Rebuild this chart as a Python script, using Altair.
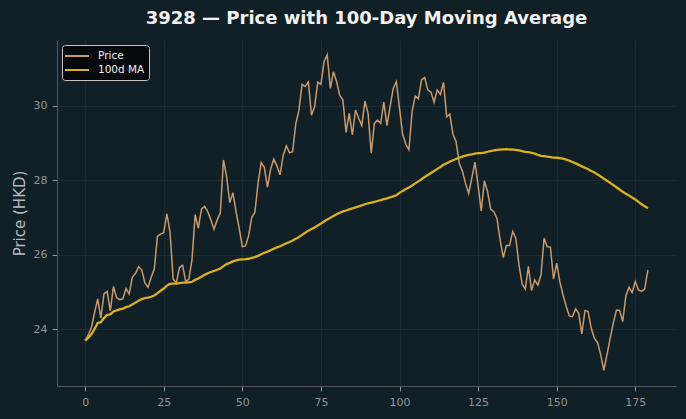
import altair as alt
import pandas as pd

# Daily closing prices for 3928 (HKD), trading days 0..179
days = list(range(180))
price = [
    23.70, 23.85, 24.05, 24.45, 24.82, 24.30, 24.95, 25.02, 24.50, 25.15,
    24.85, 24.80, 24.82, 25.10, 24.95, 25.40, 25.50, 25.68, 25.60, 25.25,
    25.13, 25.40, 25.62, 26.50, 26.56, 26.60, 27.10, 26.62, 25.35, 25.25,
    25.66, 25.72, 25.28, 25.35, 25.88, 27.08, 26.72, 27.23, 27.30, 27.16,
    26.94, 26.69, 26.94, 27.12, 28.55, 28.10, 27.40, 27.67, 27.16, 26.72,
    26.22, 26.24, 26.51, 27.01, 27.14, 27.92, 28.48, 28.35, 27.82, 28.30,
    28.57, 28.39, 28.15, 28.67, 28.93, 28.74, 28.77, 29.52, 29.88, 30.58,
    30.52, 30.64, 29.75, 29.98, 30.64, 30.58, 31.19, 31.37, 30.47, 30.92,
    30.65, 30.28, 30.16, 29.29, 29.80, 29.22, 29.89, 29.67, 29.47, 30.13,
    29.80, 28.73, 29.53, 29.62, 29.53, 30.10, 29.47, 29.98, 30.47, 30.65,
    29.94, 29.24, 28.97, 28.82, 29.85, 30.27, 30.19, 30.70, 30.76, 30.43,
    30.37, 30.10, 30.43, 30.31, 30.63, 29.71, 29.78, 29.24, 29.04, 28.46,
    28.25, 27.92, 27.65, 28.06, 28.49, 27.86, 27.18, 27.99, 27.70, 27.23,
    27.16, 26.98, 26.40, 25.93, 26.25, 26.25, 26.63, 26.45, 25.73, 25.22,
    25.08, 25.69, 25.04, 25.33, 25.19, 25.46, 26.45, 26.22, 26.21, 25.35,
    25.78, 25.28, 24.93, 24.63, 24.36, 24.34, 24.55, 24.43, 23.88, 24.51,
    24.48, 24.03, 23.76, 23.65, 23.32, 22.90, 23.32, 23.76, 24.17, 24.52,
    24.51, 24.21, 24.90, 25.13, 24.99, 25.28, 25.06, 25.02, 25.08, 25.60,
]

x_ticks = [0, 25, 50, 75, 100, 125, 150, 175]
y_ticks = [24, 26, 28, 30]
series_names = ["Price", "100d MA"]
series_colors = ["#c99a6b", "#d9b21d"]
ma_window = 100

BG = "#111f26"
FONT = "DejaVu Sans"

df = pd.DataFrame({"day": days, "price": price})

# Rolling mean over the last 100 sessions (shorter at the start of the series)
base = (
    alt.Chart(df)
    .transform_window(
        ma="mean(price)", frame=[-(ma_window - 1), 0], sort=[alt.SortField("day")]
    )
    .transform_fold(["price", "ma"], as_=["key", "value"])
    .transform_calculate(series="datum.key === 'price' ? 'Price' : '100d MA'")
)

x_enc = alt.X(
    "day:Q",
    scale=alt.Scale(domain=[-8.95, 187.95], nice=False, zero=False),
    axis=alt.Axis(values=x_ticks, title=None, format="d"),
)
y_enc = alt.Y(
    "value:Q",
    scale=alt.Scale(domain=[22.48, 31.77], nice=False, zero=False),
    axis=alt.Axis(values=y_ticks, title="Price (HKD)", format="d"),
)
# Wide horizontal dash as the legend handle
color_enc = alt.Color(
    "series:N",
    scale=alt.Scale(domain=series_names, range=series_colors),
    legend=alt.Legend(
        title=None,
        orient="none",
        legendX=5,
        legendY=5,
        symbolType="M-2,0H2",
        symbolSize=144,
        symbolStrokeWidth=2,
        symbolOffset=4,
        labelFont=FONT,
        labelFontSize=10.5,
        labelColor="#eeeeee",
        labelOffset=14,
        fillColor="#05090b",
        strokeColor="#c4c4c4",
        cornerRadius=3,
        padding=4,
        rowPadding=1,
    ),
)

price_line = base.transform_filter("datum.key === 'price'").mark_line(
    strokeWidth=1.5
).encode(x=x_enc, y=y_enc, color=color_enc)

ma_line = base.transform_filter("datum.key === 'ma'").mark_line(
    strokeWidth=2.3
).encode(x=x_enc, y=y_enc, color=color_enc)

chart = (
    alt.layer(price_line, ma_line)
    .properties(
        width=619,
        height=346,
        background=BG,
        autosize=alt.AutoSizeParams(type="none"),
        padding={"left": 57, "top": 40, "right": 10, "bottom": 33},
        title=alt.TitleParams(
            "3928 — Price with 100-Day Moving Average",
            font=FONT,
            fontSize=18,
            fontWeight="bold",
            color="#f2f2f2",
            anchor="middle",
            offset=12,
        ),
    )
    .configure_view(stroke=None, fill=BG)
    .configure_axis(
        labelFont=FONT,
        labelFontSize=11,
        labelColor="#8e959a",
        titleFont=FONT,
        titleFontSize=15,
        titleFontWeight="normal",
        titleColor="#b5babe",
        titlePadding=6,
        tickColor="#8e959a",
        tickSize=5,
        labelPadding=5,
        domainColor="#52585b",
        domainWidth=1,
        gridColor="#1c2a31",
        gridWidth=1,
    )
)

chart.save("out.html", embed_options={"renderer": "svg", "actions": False})
